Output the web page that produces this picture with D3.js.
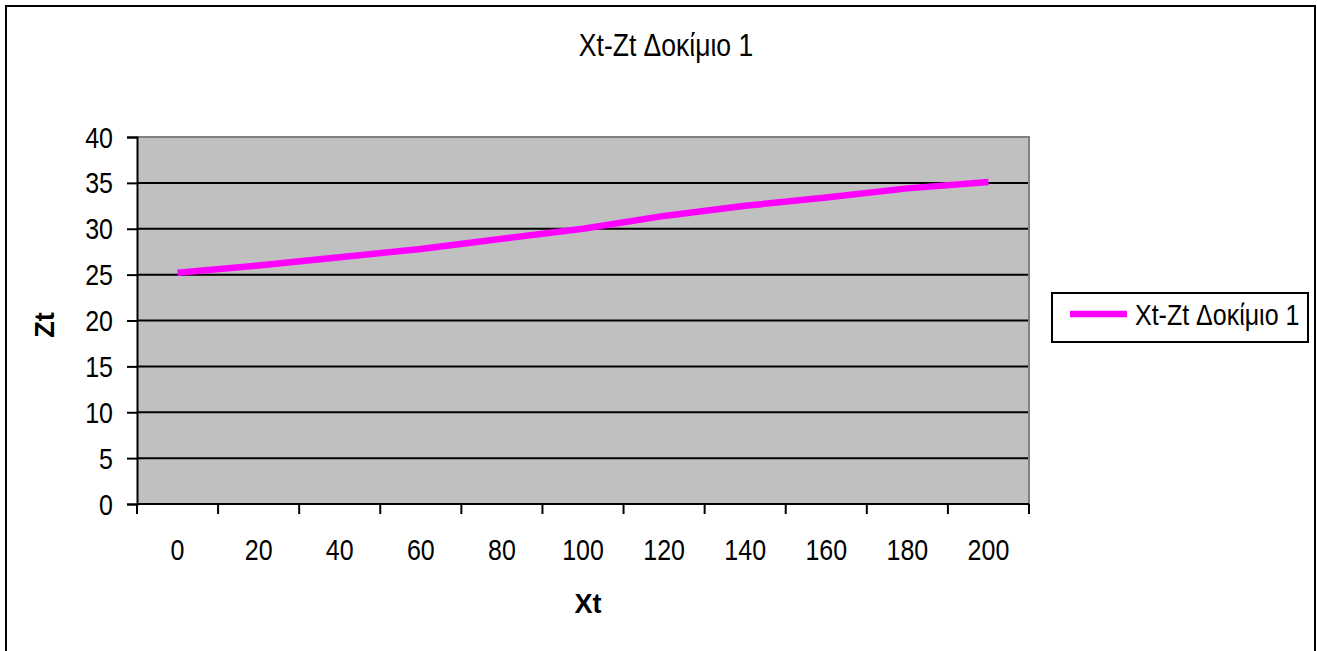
<!DOCTYPE html>
<html>
<head>
<meta charset="utf-8">
<script src="https://cdn.jsdelivr.net/npm/d3@7"></script>
<style>
  body { margin: 0; background: #fff; }
  text { font-family: Arial, "Liberation Sans", sans-serif; fill: #000; }
</style>
</head>
<body>
<div id="chart"></div>
<script>
// data
var categories = [0, 20, 40, 60, 80, 100, 120, 140, 160, 180, 200];
var zt = [25.2, 26.0, 26.9, 27.8, 28.9, 30.0, 31.4, 32.5, 33.4, 34.4, 35.1];
var yTicks = [0, 5, 10, 15, 20, 25, 30, 35, 40];
var seriesName = "Xt-Zt Δοκίμιο 1";
var chartTitle = "Xt-Zt Δοκίμιο 1";

var W = 1317, H = 651;
var margin = {top: 137, left: 137},
    width = 1029 - 137,
    height = 504 - 137;

var svg = d3.select("#chart").append("svg")
    .attr("width", W)
    .attr("height", H);

// outer chart frame
svg.append("rect")
    .attr("x", 6).attr("y", 6)
    .attr("width", 1309).attr("height", 700)
    .attr("fill", "none")
    .attr("stroke", "#000")
    .attr("stroke-width", 2);

// stretched text helper (source text is a bit taller than Arial)
function label(g, x, y, str, anchor, size) {
  return g.append("text")
    .attr("transform", "translate(" + x + "," + y + ") scale(1,1.16)")
    .attr("text-anchor", anchor || "middle")
    .style("font-size", (size || 25) + "px")
    .text(str);
}

label(svg, 666, 56, chartTitle, "middle", 26.5);

var g = svg.append("g")
    .attr("transform", "translate(" + margin.left + "," + margin.top + ")");

var x = d3.scaleBand()
    .domain(categories)
    .range([0, width])
    .padding(0);

var y = d3.scaleLinear()
    .domain([0, 40])
    .range([height, 0]);

// plot area
g.append("rect")
    .attr("width", width)
    .attr("height", height)
    .attr("fill", "#c0c0c0");

// gridlines
g.selectAll(".grid")
    .data(yTicks.filter(function(d){ return d > 0 && d < 40; }))
    .enter().append("line")
    .attr("x1", 0).attr("x2", width)
    .attr("y1", function(d){ return y(d); })
    .attr("y2", function(d){ return y(d); })
    .attr("stroke", "#000")
    .attr("stroke-width", 2);

// top & right border of the plot area (grey)
g.append("path")
    .attr("d", "M0," + y(40) + "H" + width + "V" + height)
    .attr("fill", "none")
    .attr("stroke", "#808080")
    .attr("stroke-width", 2);

// Y axis
var yAxis = g.append("g")
    .call(d3.axisLeft(y).tickValues(yTicks).tickSize(10).tickPadding(14).tickFormat(d3.format("d")));
yAxis.select(".domain").attr("stroke-width", 2);
yAxis.selectAll(".tick line").attr("stroke-width", 2);
yAxis.selectAll(".tick text").remove();
yAxis.selectAll(".tick").each(function(d) {
  label(d3.select(this), -24, 10, d, "end");
});

// X axis: ticks at category boundaries, labels at centres
var xAxis = g.append("g")
    .attr("transform", "translate(0," + height + ")");
xAxis.append("line")
    .attr("x1", 0).attr("x2", width)
    .attr("stroke", "#000").attr("stroke-width", 2);
xAxis.selectAll(".xtick")
    .data(categories.concat(["end"]))
    .enter().append("line")
    .attr("x1", function(d, i){ return i * x.bandwidth(); })
    .attr("x2", function(d, i){ return i * x.bandwidth(); })
    .attr("y1", 0).attr("y2", 10)
    .attr("stroke", "#000").attr("stroke-width", 2);
categories.forEach(function(c) {
  label(xAxis, x(c) + x.bandwidth() / 2, 56, c);
});

// axis titles
svg.append("text")
    .attr("x", 588).attr("y", 613)
    .attr("text-anchor", "middle")
    .style("font-size", "27px")
    .style("font-weight", "bold")
    .text("Xt");

svg.append("text")
    .attr("transform", "translate(54,325) rotate(-90)")
    .attr("text-anchor", "middle")
    .style("font-size", "27px")
    .style("font-weight", "bold")
    .text("Zt");

// line
var line = d3.line()
    .x(function(d, i){ return x(categories[i]) + x.bandwidth() / 2; })
    .y(function(d){ return y(d); });

g.append("path")
    .datum(zt)
    .attr("d", line)
    .attr("fill", "none")
    .attr("stroke", "#ff00ff")
    .attr("stroke-width", 6.5)
    .attr("stroke-linejoin", "round");

// legend
var legend = svg.append("g");
legend.append("rect")
    .attr("x", 1052).attr("y", 293)
    .attr("width", 256).attr("height", 49)
    .attr("fill", "#fff")
    .attr("stroke", "#000")
    .attr("stroke-width", 2);
legend.append("line")
    .attr("x1", 1070).attr("x2", 1127)
    .attr("y1", 314).attr("y2", 314)
    .attr("stroke", "#ff00ff")
    .attr("stroke-width", 6.5);
label(legend, 1135, 325, seriesName, "start");
</script>
</body>
</html>
